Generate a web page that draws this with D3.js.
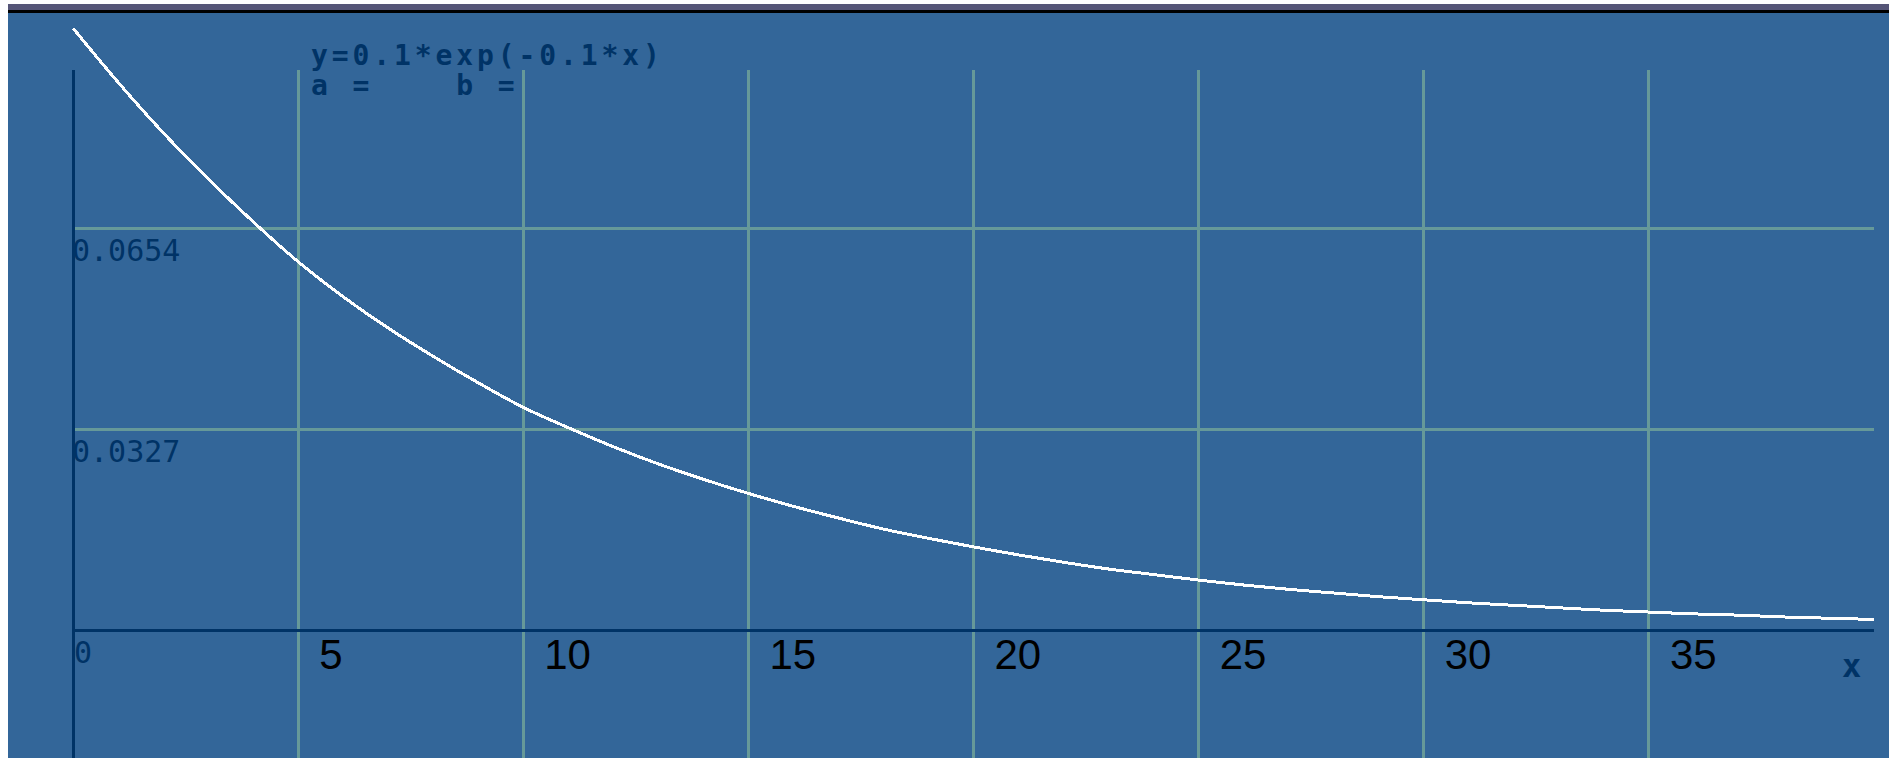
<!DOCTYPE html>
<html>
<head>
<meta charset="utf-8">
<script src="https://cdn.jsdelivr.net/npm/d3@7"></script>
<style>
  html, body { margin: 0; padding: 0; background: #ffffff; }
  svg { display: block; }
</style>
</head>
<body>
<svg id="chart" width="1889" height="758"></svg>
<script>
// ---- data ----
const xValues = [0,1,2,3,4,5,6,7,8,9,10,11,12,13,14,15,16,17,18,19,20,
                 21,22,23,24,25,26,27,28,29,30,31,32,33,34,35,36,37,38,39,40];
const yValues = [0.0980,0.0892,0.0810,0.0735,0.0665,0.0600,0.0543,0.0492,0.0446,0.0403,0.0363,
                 0.0330,0.0299,0.0271,0.0246,0.0223,0.0202,0.0183,0.0165,0.0150,0.0136,
                 0.0123,0.0111,0.0100,0.0091,0.0082,0.0074,0.0067,0.0061,0.0055,0.0050,
                 0.0045,0.0041,0.0037,0.0033,0.0030,0.0027,0.0025,0.0022,0.0020,0.0018];
const xTicks = [5,10,15,20,25,30,35];
const xTickLabels = ["5","10","15","20","25","30","35"];
const yTicks = [0.0327, 0.0654];
const yTickLabels = ["0.0327", "0.0654"];
const titleLines = ["y=0.1*exp(-0.1*x)", "a =    b ="];
const xAxisName = "x";

// ---- layout ----
const W = 1889, H = 758;
const svg = d3.select("#chart");
const C = { bg: "#336699", grid: "#669999", axis: "#003366", text: "#003366", bar: "#555577" };

const x = d3.scaleLinear().domain([0, 40]).range([73, 1874]);
const y = d3.scaleLinear().domain([0, 0.0981]).range([630.5, 27.5]);

// frame
svg.append("rect").attr("x", 0).attr("y", 0).attr("width", W).attr("height", H).attr("fill", "#ffffff");
svg.append("rect").attr("x", 8).attr("y", 4).attr("width", W - 8).attr("height", H - 4).attr("fill", C.bg);
svg.append("rect").attr("x", 8).attr("y", 4).attr("width", W - 8).attr("height", 6).attr("fill", C.bar);
svg.append("rect").attr("x", 8).attr("y", 10).attr("width", W - 8).attr("height", 3).attr("fill", "#000000");

const g = svg.append("g").attr("shape-rendering", "crispEdges");

// vertical grid lines
g.selectAll("line.vg").data(xTicks).join("line")
  .attr("class", "vg")
  .attr("x1", d => x(d)).attr("x2", d => x(d))
  .attr("y1", 70).attr("y2", H)
  .attr("stroke", C.grid).attr("stroke-width", 3);

// horizontal grid lines
g.selectAll("line.hg").data(yTicks).join("line")
  .attr("class", "hg")
  .attr("x1", x(0)).attr("x2", x(40))
  .attr("y1", d => y(d)).attr("y2", d => y(d))
  .attr("stroke", C.grid).attr("stroke-width", 3);

// y tick labels (pixel-like mono font)
svg.selectAll("text.yl").data(yTicks).join("text")
  .attr("class", "yl")
  .attr("x", x(0) - 1)
  .attr("y", d => y(d) + 32)
  .attr("font-family", "DejaVu Sans Mono")
  .attr("font-size", 30)
  .attr("fill", C.text)
  .text((d, i) => yTickLabels[i]);

// zero label
svg.append("text")
  .attr("x", x(0) + 1).attr("y", y(0) + 32)
  .attr("font-family", "DejaVu Sans Mono").attr("font-size", 30)
  .attr("fill", C.text).text("0");

// x tick labels
svg.selectAll("text.xl").data(xTicks).join("text")
  .attr("class", "xl")
  .attr("x", d => x(d) + 21)
  .attr("y", 669)
  .attr("font-family", "Liberation Sans, Arial, sans-serif")
  .attr("font-size", 42)
  .attr("fill", "#000000")
  .text((d, i) => xTickLabels[i]);

// x axis name
svg.append("text")
  .attr("x", 1842).attr("y", 677)
  .attr("font-family", "DejaVu Sans Mono").attr("font-weight", "bold").attr("font-size", 32)
  .attr("fill", C.text).text(xAxisName);

// axes
g.append("line").attr("x1", x(0)).attr("x2", x(40)).attr("y1", y(0)).attr("y2", y(0))
  .attr("stroke", C.axis).attr("stroke-width", 3);
g.append("line").attr("x1", x(0)).attr("x2", x(0)).attr("y1", 70).attr("y2", H)
  .attr("stroke", C.axis).attr("stroke-width", 3);

// title lines
svg.selectAll("text.tt").data(titleLines).join("text")
  .attr("class", "tt")
  .attr("x", 311)
  .attr("y", (d, i) => 65 + i * 30)
  .attr("font-family", "DejaVu Sans Mono")
  .attr("font-weight", "bold")
  .attr("font-size", 28)
  .attr("letter-spacing", 3.9)
  .attr("fill", C.text)
  .attr("xml:space", "preserve")
  .style("white-space", "pre")
  .text(d => d);

// curve
const pts = xValues.map((v, i) => [v, yValues[i]]);
svg.append("path")
  .datum(pts)
  .attr("d", d3.line().x(d => x(d[0])).y(d => y(d[1])).curve(d3.curveMonotoneX))
  .attr("fill", "none")
  .attr("stroke", "#ffffff")
  .attr("stroke-width", 3)
  .attr("shape-rendering", "crispEdges");
</script>
</body>
</html>
